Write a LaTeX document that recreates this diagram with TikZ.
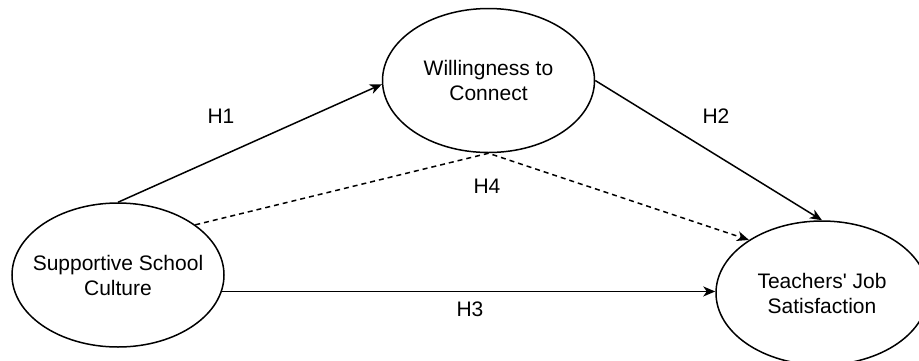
\documentclass[tikz,border=0pt]{standalone}
\usepackage{fontspec}
\setmainfont{Liberation Sans}
\usetikzlibrary{arrows.meta,shapes.geometric}
\begin{document}
\begin{tikzpicture}[x=1pt,y=-1pt,
  construct/.style={draw=black, line width=1.5pt, ellipse, minimum width=212pt, minimum height=144pt,
    inner sep=0pt, label={[align=center, font=\fontsize{21}{25}\selectfont, inner sep=0pt]center:#1}},
  hpath/.style={draw=black, line width=1.5pt, -{Stealth[length=12pt,width=10pt,inset=3.5pt]}},
  hypo/.style={font=\fontsize{21}{25}\selectfont, inner sep=0pt},
  hdashed/.style={hpath, dash pattern=on 5pt off 4pt}]
  \useasboundingbox (0,0) rectangle (919,360);

  % constructs (fixed-size ellipses, caption set as a centred label)
  \node[construct={Willingness to\\Connect}]    (will) at (488.5,80.5) {};
  \node[construct={Supportive School\\Culture}] (sup)  at (118,275)    {};
  \node[construct={Teachers\textquotesingle\ Job\\Satisfaction}] (tea) at (822,293) {};

  % hypothesised paths
  \draw[hpath] (sup.north) -- (will.182);
  \draw[hpath] (will.east) -- (tea.north);
  \draw[hpath] (sup.351) -- (sup.351 -| tea.west);
  \draw[hdashed] (sup.33) -- (will.south) -- (tea.144);

  % path labels
  \node[hypo] (h1) at (221,116) {H1};
  \node[hypo] (h2) at (716,116) {H2};
  \node[hypo] (h3) at (470,309) {H3};
  \node[hypo] (h4) at (487,186) {H4};
\end{tikzpicture}
\end{document}
